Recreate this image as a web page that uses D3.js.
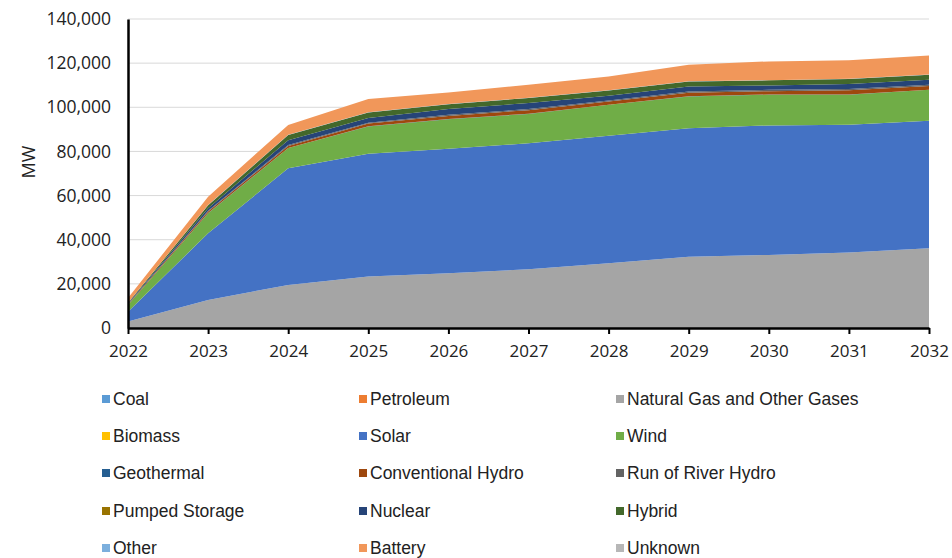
<!DOCTYPE html>
<html><head><meta charset="utf-8">
<script src="https://cdn.jsdelivr.net/npm/d3@7"></script>
<style>body{margin:0;background:#fff}svg{display:block}</style>
</head><body><svg id="c" width="952" height="558"></svg>
<script>
const years = [2022,2023,2024,2025,2026,2027,2028,2029,2030,2031,2032];
const seriesNames = ["Coal","Petroleum","Natural Gas and Other Gases","Biomass","Solar","Wind","Geothermal","Conventional Hydro","Run of River Hydro","Pumped Storage","Nuclear","Hybrid","Other","Battery","Unknown"];
const seriesColors = ["#5b9bd5","#ed7d31","#a5a5a5","#ffc000","#4472c4","#70ad47","#255e91","#9e480e","#636363","#997300","#264478","#43682b","#7cafdd","#f1975a","#b7b7b7"];
const coal        = [0,0,0,0,0,0,0,0,0,0,0];
const petroleum   = [0,0,0,0,0,0,0,0,0,0,0];
const naturalGas  = [2900,12700,19500,23300,24800,26600,29300,32300,33100,34200,36100];
const biomass     = [0,0,0,0,0,0,0,0,0,0,0];
const solar       = [4500,30200,52900,55600,56400,57100,57800,58200,58700,57900,57800];
const wind        = [3000,9100,9100,12400,13400,13300,14000,14400,13900,13600,14000];
const geothermal  = [0,50,100,100,100,100,100,100,100,100,100];
const convHydro   = [300,750,900,1200,1400,1600,1400,1600,1500,1900,1600];
const runOfRiver  = [100,300,400,400,500,500,500,600,600,600,600];
const pumped      = [0,0,0,0,0,0,0,0,0,0,0];
const nuclear     = [300,1200,2200,2200,2600,2700,2100,2200,2000,2200,2300];
const hybrid      = [300,1300,2400,2400,2200,2300,2400,2300,2300,2300,2200];
const other       = [0,100,100,100,100,100,100,100,100,100,100];
const battery     = [2200,3800,4400,6100,5200,5900,6300,7500,8500,8400,8700];
const unknown     = [0,0,0,0,0,0,0,0,0,0,0];
const seriesValues = [coal,petroleum,naturalGas,biomass,solar,wind,geothermal,convHydro,runOfRiver,pumped,nuclear,hybrid,other,battery,unknown];
const yTicks = [0,20000,40000,60000,80000,100000,120000,140000];

const svg = d3.select("#c");
const font = "'Liberation Sans Narrow','Arial Narrow','Liberation Sans',sans-serif";
const x = d3.scaleLinear().domain([2022,2032]).range([128,929]);
const y = d3.scaleLinear().domain([0,140000]).range([328,19]);

const table = years.map((yr,i)=>{const o={year:yr};seriesNames.forEach((n,k)=>o[n]=seriesValues[k][i]);return o;});
const stacked = d3.stack().keys(seriesNames)(table);

// gridlines
svg.append("g").selectAll("line").data(yTicks.slice(1)).join("line")
  .attr("x1",128).attr("x2",929).attr("y1",d=>y(d)).attr("y2",d=>y(d))
  .attr("stroke","#d9d9d9").attr("stroke-width",1);

const area = d3.area().x(d=>x(d.data.year)).y0(d=>y(d[0])).y1(d=>y(d[1]));
svg.append("g").selectAll("path").data(stacked).join("path")
  .attr("d",area).attr("fill",(d,i)=>seriesColors[i]);

// y axis
const yAxis = svg.append("g").attr("transform","translate(128,0)")
  .call(d3.axisLeft(y).tickValues(yTicks).tickSize(0).tickPadding(17).tickFormat(d3.format(",")));
yAxis.select(".domain").attr("stroke","#000").attr("stroke-width",2.5);
yAxis.selectAll("text").attr("font-family","'Open Sans',sans-serif").attr("font-size",17.5).attr("fill","#222");

// x axis
const xAxis = svg.append("g").attr("transform","translate(0,328)")
  .call(d3.axisBottom(x).tickValues(years).tickSize(6).tickSizeOuter(0).tickPadding(11).tickFormat(d3.format("d")));
xAxis.select(".domain").attr("stroke","#000").attr("stroke-width",2.5);
xAxis.selectAll(".tick line").attr("stroke","#000").attr("stroke-width",2);
xAxis.selectAll("text").attr("font-family","'Open Sans',sans-serif").attr("font-size",17).attr("fill","#222");

svg.append("text").attr("transform","translate(35,162) rotate(-90)")
  .attr("text-anchor","middle").attr("font-family","'Open Sans',sans-serif").attr("font-size",18).attr("fill","#222").text("MW");

// legend
const colX = [102,359,616];
const rowY = [399,436,473,511,548];
const leg = svg.append("g").selectAll("g").data(seriesNames).join("g")
  .attr("transform",(d,i)=>`translate(${colX[i%3]},${rowY[Math.floor(i/3)]})`);
leg.append("rect").attr("x",0).attr("y",-4).attr("width",8).attr("height",8).attr("fill",(d,i)=>seriesColors[i]);
leg.append("text").attr("x",11).attr("y",0).attr("dy","0.35em").attr("font-family",font).attr("font-size",17.5).attr("fill","#222").text(d=>d);
</script></body></html>
